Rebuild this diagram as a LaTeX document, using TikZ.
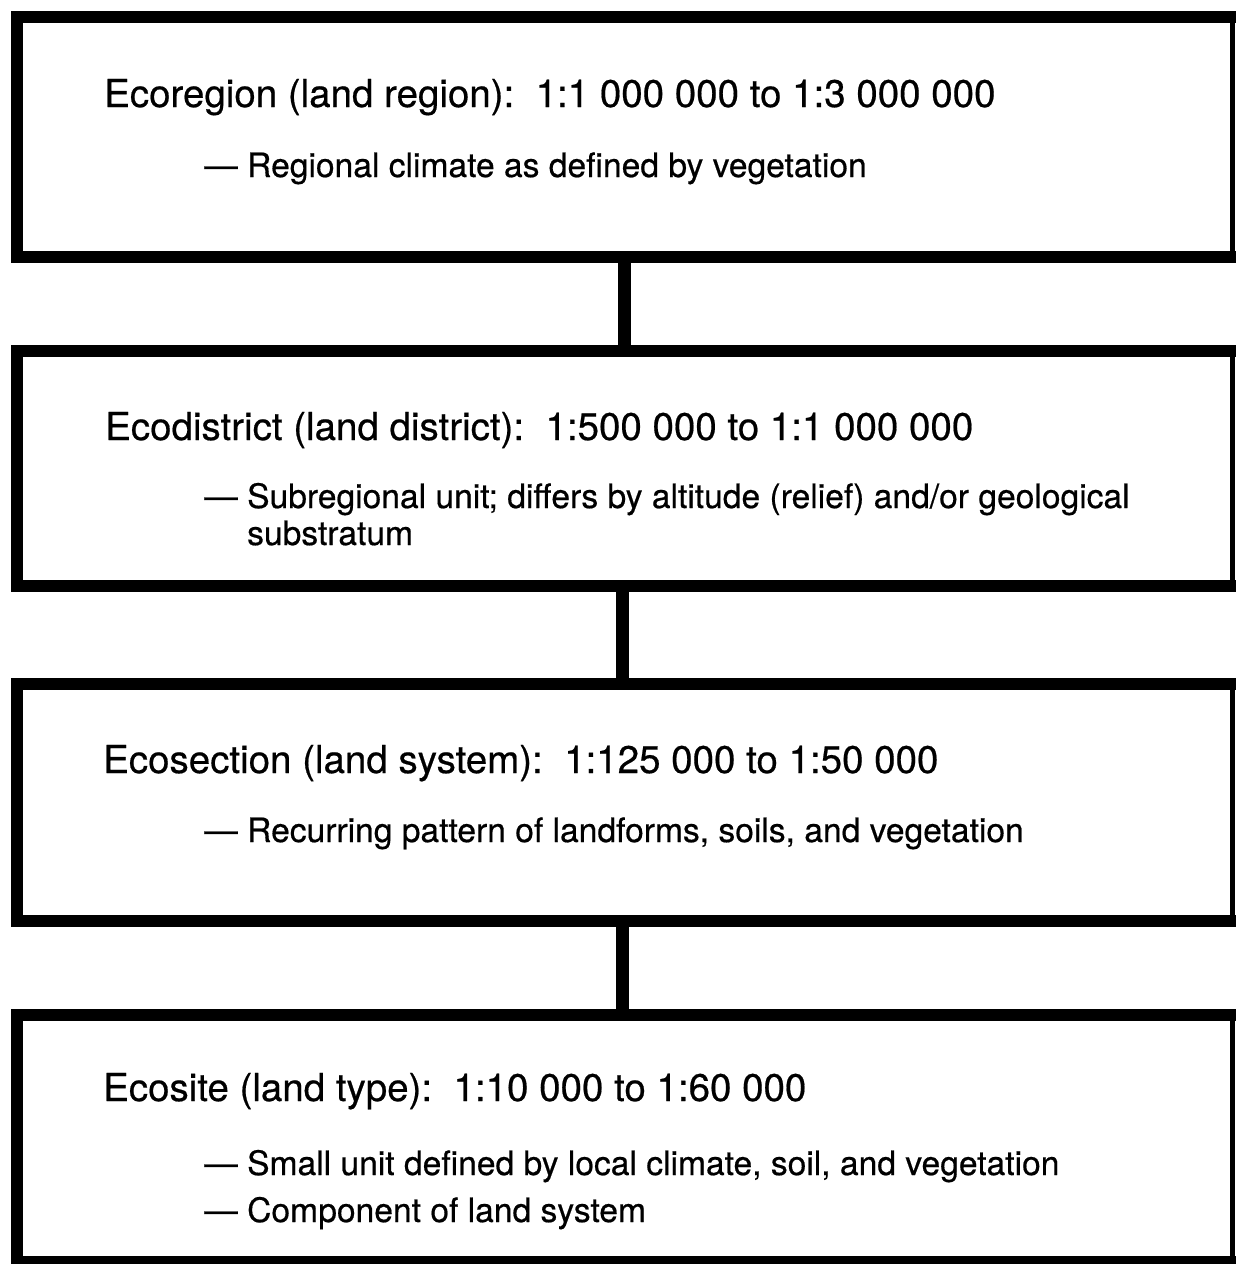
\documentclass[tikz,border=0pt]{standalone}
\usepackage{fontspec}
\setmainfont[FakeBold=0.5]{TeX Gyre Heros}

\begin{document}
\begin{tikzpicture}[x=1pt, y=-1pt,
	ecobox/.style={minimum width=1216pt, inner sep=0pt, outer sep=0pt},
	rim/.style={line width=12pt, line cap=rect, line join=miter},
	thinrim/.style={line width=5pt},
	link/.style={line width=12.5pt},
	title/.style={anchor=base west, inner sep=0pt, font=\fontsize{38.5}{46}\selectfont},
	item/.style={anchor=base west, inner sep=0pt, font=\fontsize{33.6}{38}\selectfont}]
	\useasboundingbox (0,0) rectangle (1235,1264);
	% the four levels
	\node[ecobox, minimum height=240pt] (region) at (624.5,137) {};
	\node[ecobox, minimum height=235pt] (district) at (624.5,468.5) {};
	\node[ecobox, minimum height=237.5pt] (section) at (624.5,802.25) {};
	\node[ecobox, minimum height=247pt] (site) at (624.5,1138.5) {};
	\foreach \b in {region,district,section,site}{
		\draw[rim] (\b.north east) -- (\b.north west) |- (\b.south east);
		\draw[thinrim] (\b.north east) -- (\b.south east);
	}
	% links between levels
	\draw[link] (region.south) -- (district.north);
	\draw[link] ([xshift=-2pt]district.south) -- ([xshift=-2pt]section.north);
	\draw[link] ([xshift=-2pt]section.south) -- ([xshift=-2pt]site.north);
	% texts
	\node[title] (regionname) at (104,107) {Ecoregion (land region):\ \ 1:1 000 000 to 1:3 000 000};
	\node[item] (regionnote) at (247,177) {\llap{—\ }Regional climate as defined by vegetation};
	\node[title] (districtname) at (105,440) {Ecodistrict (land district):\ \ 1:500 000 to 1:1 000 000};
	\node[item] (districtnote) at (247,508) {\llap{—\ }Subregional unit; differs by altitude (relief) and/or geological};
	\node[item] (districtmore) at (247,545) {substratum};
	\node[title] (sectionname) at (103,773) {Ecosection (land system):\ \ 1:125 000 to 1:50 000};
	\node[item] (sectionnote) at (247,842) {\llap{—\ }Recurring pattern of landforms, soils, and vegetation};
	\node[title] (sitename) at (103,1101) {Ecosite (land type):\ \ 1:10 000 to 1:60 000};
	\node[item] (sitenote) at (247,1175) {\llap{—\ }Small unit defined by local climate, soil, and vegetation};
	\node[item] (sitemore) at (247,1222) {\llap{—\ }Component of land system};
\end{tikzpicture}
\end{document}
